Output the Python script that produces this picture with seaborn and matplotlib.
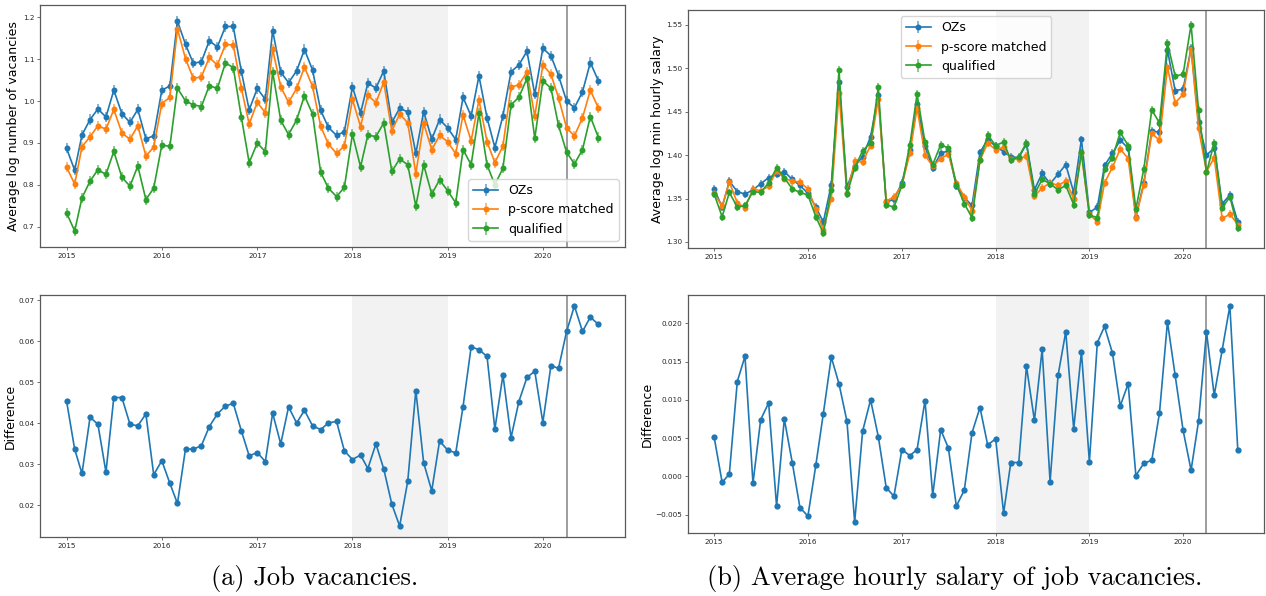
import numpy as np
import pandas as pd
import matplotlib
matplotlib.use("Agg")
import matplotlib.pyplot as plt
import matplotlib.dates as mdates
from matplotlib.ticker import MultipleLocator
from matplotlib.lines import Line2D
from matplotlib.collections import LineCollection
from matplotlib.container import ErrorbarContainer
import seaborn as sns

# ---------------- data ----------------
months = pd.date_range("2015-01-01", "2020-08-01", freq="MS")
series_names = ["OZs", "p-score matched", "qualified"]
colors = ["#1f77b4", "#ff7f0e", "#2ca02c"]

vac_ozs = [0.887, 0.835, 0.919, 0.956, 0.981, 0.962, 1.026, 0.970, 0.949, 0.980, 0.910, 0.917,
           1.026, 1.036, 1.191, 1.135, 1.090, 1.094, 1.144, 1.129, 1.178, 1.178, 1.071, 0.979,
           1.030, 1.004, 1.168, 1.069, 1.044, 1.072, 1.123, 1.074, 0.978, 0.937, 0.918, 0.927,
           1.034, 0.971, 1.043, 1.031, 1.072, 0.949, 0.983, 0.974, 0.875, 0.975, 0.909, 0.956,
           0.936, 0.908, 1.009, 0.964, 1.060, 0.960, 0.889, 0.965, 1.070, 1.086, 1.119, 1.016,
           1.126, 1.108, 1.061, 1.000, 0.984, 1.022, 1.092, 1.048]
vac_matched = [0.842, 0.802, 0.891, 0.915, 0.941, 0.933, 0.980, 0.924, 0.909, 0.941, 0.869, 0.890,
               0.994, 1.009, 1.172, 1.101, 1.054, 1.058, 1.104, 1.086, 1.135, 1.134, 1.031, 0.945,
               0.997, 0.972, 1.124, 1.034, 0.997, 1.030, 1.081, 1.035, 0.940, 0.897, 0.875, 0.893,
               1.004, 0.939, 1.014, 0.996, 1.045, 0.929, 0.969, 0.948, 0.827, 0.947, 0.884, 0.918,
               0.903, 0.874, 0.967, 0.905, 1.003, 0.903, 0.853, 0.893, 1.033, 1.039, 1.069, 0.964,
               1.086, 1.064, 1.008, 0.936, 0.917, 0.960, 1.026, 0.983]
vac_qualified = [0.733, 0.690, 0.769, 0.809, 0.836, 0.825, 0.880, 0.818, 0.797, 0.845, 0.765, 0.792,
                 0.895, 0.892, 1.031, 1.000, 0.991, 0.987, 1.037, 1.030, 1.091, 1.080, 0.962, 0.853,
                 0.900, 0.879, 1.070, 0.954, 0.920, 0.955, 1.013, 0.969, 0.830, 0.792, 0.772, 0.794,
                 0.921, 0.843, 0.919, 0.915, 0.948, 0.832, 0.862, 0.848, 0.749, 0.848, 0.778, 0.812,
                 0.786, 0.757, 0.884, 0.848, 0.971, 0.848, 0.800, 0.840, 0.991, 1.009, 1.054, 0.911,
                 1.048, 1.031, 0.942, 0.878, 0.850, 0.884, 0.963, 0.913]
vac_diff = [0.0454, 0.0337, 0.0278, 0.0415, 0.0398, 0.0281, 0.0463, 0.0463, 0.0398, 0.0394, 0.0423, 0.0275,
            0.0309, 0.0254, 0.0205, 0.0338, 0.0337, 0.0346, 0.0392, 0.0423, 0.0442, 0.0449, 0.0382, 0.0321,
            0.0329, 0.0307, 0.0425, 0.0350, 0.0440, 0.0401, 0.0432, 0.0394, 0.0385, 0.0401, 0.0405, 0.0333,
            0.0312, 0.0323, 0.0290, 0.0350, 0.0289, 0.0203, 0.0150, 0.0259, 0.0480, 0.0304, 0.0236, 0.0357,
            0.0335, 0.0328, 0.0441, 0.0586, 0.0580, 0.0563, 0.0386, 0.0518, 0.0365, 0.0453, 0.0512, 0.0527,
            0.0402, 0.0541, 0.0534, 0.0624, 0.0686, 0.0624, 0.0659, 0.0641]

sal_ozs = [1.361, 1.340, 1.370, 1.358, 1.355, 1.360, 1.367, 1.374, 1.378, 1.381, 1.372, 1.365,
           1.356, 1.340, 1.323, 1.366, 1.484, 1.363, 1.387, 1.398, 1.421, 1.469, 1.346, 1.349,
           1.368, 1.406, 1.459, 1.410, 1.385, 1.402, 1.405, 1.364, 1.351, 1.342, 1.403, 1.418,
           1.410, 1.404, 1.398, 1.397, 1.413, 1.360, 1.379, 1.367, 1.378, 1.389, 1.357, 1.418,
           1.334, 1.340, 1.388, 1.402, 1.417, 1.408, 1.329, 1.368, 1.428, 1.426, 1.521, 1.474,
           1.476, 1.523, 1.438, 1.400, 1.408, 1.344, 1.354, 1.323]
sal_matched = [1.356, 1.341, 1.369, 1.345, 1.339, 1.361, 1.359, 1.364, 1.382, 1.373, 1.370, 1.369,
               1.361, 1.338, 1.314, 1.350, 1.472, 1.356, 1.393, 1.392, 1.411, 1.464, 1.347, 1.352,
               1.365, 1.402, 1.454, 1.400, 1.387, 1.396, 1.401, 1.368, 1.352, 1.336, 1.394, 1.414,
               1.406, 1.409, 1.396, 1.395, 1.399, 1.353, 1.362, 1.368, 1.365, 1.370, 1.350, 1.402,
               1.332, 1.323, 1.368, 1.386, 1.407, 1.396, 1.328, 1.366, 1.425, 1.417, 1.501, 1.460,
               1.470, 1.522, 1.431, 1.381, 1.397, 1.327, 1.332, 1.320]
sal_qualified = [1.355, 1.329, 1.357, 1.340, 1.342, 1.358, 1.357, 1.368, 1.385, 1.374, 1.361, 1.357,
                 1.354, 1.329, 1.310, 1.360, 1.498, 1.355, 1.385, 1.405, 1.414, 1.478, 1.343, 1.340,
                 1.365, 1.412, 1.470, 1.415, 1.389, 1.412, 1.408, 1.366, 1.344, 1.328, 1.394, 1.423,
                 1.411, 1.415, 1.394, 1.398, 1.414, 1.355, 1.372, 1.367, 1.360, 1.365, 1.343, 1.403,
                 1.331, 1.328, 1.384, 1.397, 1.426, 1.411, 1.338, 1.384, 1.452, 1.437, 1.529, 1.491,
                 1.493, 1.550, 1.452, 1.380, 1.414, 1.339, 1.352, 1.316]
sal_diff = [0.0051, -0.0008, 0.0003, 0.0124, 0.0157, -0.0009, 0.0074, 0.0096, -0.0039, 0.0075, 0.0018, -0.0041,
            -0.0052, 0.0015, 0.0082, 0.0156, 0.0121, 0.0072, -0.0060, 0.0059, 0.0100, 0.0052, -0.0015, -0.0026,
            0.0035, 0.0027, 0.0035, 0.0099, -0.0025, 0.0061, 0.0037, -0.0039, -0.0018, 0.0057, 0.0090, 0.0041,
            0.0049, -0.0048, 0.0018, 0.0018, 0.0144, 0.0073, 0.0166, -0.0007, 0.0132, 0.0189, 0.0062, 0.0163,
            0.0019, 0.0175, 0.0196, 0.0161, 0.0092, 0.0121, 0.0001, 0.0017, 0.0021, 0.0083, 0.0202, 0.0132,
            0.0060, 0.0008, 0.0072, 0.0189, 0.0106, 0.0165, 0.0223, 0.0034]

vac_err = 0.012
sal_err = 0.0045

shade_start, shade_end = pd.Timestamp("2018-01-01"), pd.Timestamp("2019-01-01")
covid_line = pd.Timestamp("2020-04-01")

ylabels = ["Average log number of vacancies", "Average log min hourly salary", "Difference"]
captions = ["(a) Job vacancies.", "(b) Average hourly salary of job vacancies."]

# ---------------- figure ----------------
W, H = 1266, 596
fig = plt.figure(figsize=(W / 100, H / 100), dpi=100)


def px_axes(l, t, r, b):
    return fig.add_axes([l / W, 1 - b / H, (r - l) / W, (b - t) / H])


ax_tl = px_axes(40, 5, 625, 247)
ax_bl = px_axes(40, 295, 625, 537)
ax_tr = px_axes(688, 10, 1264, 248)
ax_br = px_axes(688, 295, 1264, 533)


def style(ax, ystep):
    for s in ax.spines.values():
        s.set_color("0.35")
        s.set_linewidth(0.9)
    ax.tick_params(axis="both", labelsize=5.2, length=2.5, width=0.6, pad=1.5,
                   color="0.35", labelcolor="0.15")
    ax.xaxis.set_major_locator(mdates.YearLocator())
    ax.xaxis.set_major_formatter(mdates.DateFormatter("%Y"))
    ax.yaxis.set_major_locator(MultipleLocator(ystep))
    ax.axvspan(shade_start, shade_end, color="0.5", alpha=0.1, lw=0, zorder=0)
    ax.axvline(covid_line, color="0.55", lw=1.2, zorder=1)


def top_panel(ax, vals, err, ylabel, legend_loc, ystep):
    df = pd.DataFrame({
        "date": np.tile(months, 3),
        "value": np.concatenate([np.asarray(v, float) for v in vals]),
        "series": np.repeat(series_names, len(months)),
    })
    for v, c in zip(vals, colors):
        ax.errorbar(months, v, yerr=err, fmt="none", ecolor=c, elinewidth=1.4, alpha=0.55, zorder=2)
    sns.lineplot(data=df, x="date", y="value", hue="series", hue_order=series_names,
                 palette=colors, marker="o", markersize=4.3, markeredgewidth=0,
                 linewidth=1.2, legend=False, errorbar=None, ax=ax, zorder=3)
    handles = []
    for c, n in zip(colors, series_names):
        ln = Line2D([], [], color=c, marker="o", markersize=4.3, markeredgewidth=0, lw=1.2)
        bar = LineCollection([], colors=c, linewidths=1.4, alpha=0.55)
        handles.append(ErrorbarContainer((ln, (), (bar,)), has_xerr=False, has_yerr=True, label=n))
    ax.legend(handles=handles, labels=series_names, loc=legend_loc, fontsize=9, framealpha=0.8)
    ax.set_xlabel("")
    ax.set_ylabel(ylabel, fontsize=9, labelpad=2)
    style(ax, ystep)


def diff_panel(ax, vals, ystep):
    df = pd.DataFrame({"date": months, "value": vals})
    sns.lineplot(data=df, x="date", y="value", color=colors[0], marker="o", markersize=4.5,
                 markeredgewidth=0, linewidth=1.2, ax=ax, zorder=3)
    ax.set_xlabel("")
    ax.set_ylabel("Difference", fontsize=9, labelpad=1)
    style(ax, ystep)


top_panel(ax_tl, [vac_ozs, vac_matched, vac_qualified], vac_err, ylabels[0], "lower right", 0.1)
top_panel(ax_tr, [sal_ozs, sal_matched, sal_qualified], sal_err, ylabels[1], "upper center", 0.05)
diff_panel(ax_bl, vac_diff, 0.01)
diff_panel(ax_br, sal_diff, 0.005)

fig.text(315 / W, 1 - 578 / H, captions[0], ha="center", va="center", fontsize=19,
         family=["cmr10", "DejaVu Serif"])
fig.text(955 / W, 1 - 578 / H, captions[1], ha="center", va="center", fontsize=19,
         family=["cmr10", "DejaVu Serif"])

fig.savefig("out.png", dpi=100)
